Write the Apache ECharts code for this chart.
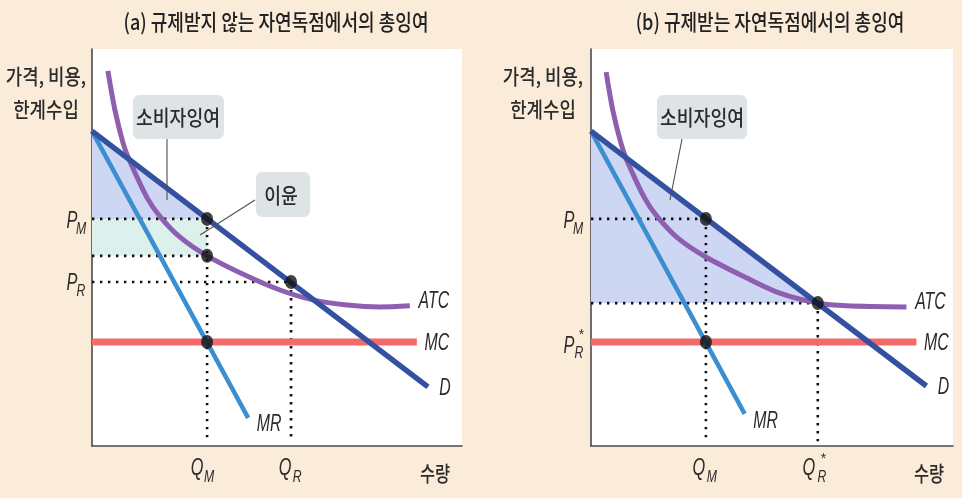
<!DOCTYPE html>
<html><head><meta charset="utf-8">
<script src="https://cdn.jsdelivr.net/npm/echarts@6.0.0/dist/echarts.min.js"></script>
<style>html,body{margin:0;padding:0;background:#fbebd9}#c{width:962px;height:498px}</style>
</head><body><div id="c"></div>
<script>
// ---------- data ----------
const panelTitles = ['(a) 규제받지 않는 자연독점에서의 총잉여', '(b) 규제받는 자연독점에서의 총잉여'];
const yAxisLines = ['가격, 비용,', '한계수입'];
const xAxisTitle = '수량';
const curveNames = ['ATC', 'MC', 'D', 'MR'];
const annotationA = ['소비자잉여', '이윤'];
const annotationB = ['소비자잉여'];

// panel (a)
const demandA = [[0, 79.3], [90.8, 14.9]];
const marginalRevenueA = [[0, 79.3], [42.2, 7.1]];
const marginalCostA = [[0, 26.2], [87.8, 26.2]];
const averageTotalCostA = [[4.3, 94.5], [6.2, 84.6], [8.4, 76.3], [10.0, 72.2], [14.9, 62.5], [18.4, 57.8], [23.8, 52.6], [31.1, 47.9], [41.9, 42.8], [50.8, 39.3], [59.7, 36.8], [68.9, 35.5], [77.8, 35.0], [85.9, 35.3]];
const quantitiesA = [31.1, 53.8];        // Q_M, Q_R
const pricesA = [57.2, 47.9, 41.3];      // P_M, ATC at Q_M, P_R

// panel (b)
const demandB = [[0, 79.3], [90.8, 15.1]];
const marginalRevenueB = [[0, 79.3], [41.6, 8.1]];
const marginalCostB = [[0, 26.2], [88.1, 26.2]];
const averageTotalCostB = [[4.1, 94.2], [5.9, 84.6], [8.1, 76.3], [9.7, 72.0], [14.6, 62.3], [18.1, 57.6], [23.6, 52.3], [31.1, 47.6], [42.2, 42.3], [51.1, 38.5], [61.4, 36.0], [69.2, 35.3], [85.4, 35.0]];
const quantitiesB = [31.1, 61.4];        // Q_M, Q_R*
const pricesB = [57.2, 36.0];            // P_M, ATC at Q_R*
const mcLevel = 26.2;

// ---------- build ----------
const C = {
  d: '#3450a0', mr: '#3b8ed0', mc: '#f26a6a', atc: '#8e5fb0',
  cs: '#cdd6f3', profit: '#dcf0ec', dot: '#111111'
};
const chart = echarts.init(document.getElementById('c'), null, {renderer: 'canvas'});
const grids = [
  {left: 92, top: 49, width: 370, height: 397},
  {left: 591, top: 49, width: 362, height: 397}
];
const xMax = [100, 98];

const panelA = {
  demand: demandA, mr: marginalRevenueA, mc: marginalCostA, atc: averageTotalCostA,
  fills: [
    {pts: [[0, demandA[0][1]], [quantitiesA[0], pricesA[0]], [0, pricesA[0]]], color: C.cs},
    {pts: [[0, pricesA[0]], [quantitiesA[0], pricesA[0]], [quantitiesA[0], pricesA[1]], [0, pricesA[1]]], color: C.profit}
  ],
  dotted: [
    [[0, pricesA[0]], [quantitiesA[0], pricesA[0]]],
    [[0, pricesA[1]], [quantitiesA[0], pricesA[1]]],
    [[0, pricesA[2]], [quantitiesA[1], pricesA[2]]],
    [[quantitiesA[0], pricesA[0]], [quantitiesA[0], 1.2]],
    [[quantitiesA[1], pricesA[2]], [quantitiesA[1], 1.2]]
  ],
  dots: [[quantitiesA[0], pricesA[0]], [quantitiesA[0], pricesA[1]], [quantitiesA[1], pricesA[2]], [quantitiesA[0], mcLevel]]
};
const panelB = {
  demand: demandB, mr: marginalRevenueB, mc: marginalCostB, atc: averageTotalCostB,
  fills: [
    {pts: [[0, demandB[0][1]], [quantitiesB[1], pricesB[1]], [0, pricesB[1]]], color: C.cs}
  ],
  dotted: [
    [[0, pricesB[0]], [quantitiesB[0], pricesB[0]]],
    [[0, pricesB[1]], [quantitiesB[1], pricesB[1]]],
    [[quantitiesB[0], pricesB[0]], [quantitiesB[0], 1.2]],
    [[quantitiesB[1], pricesB[1]], [quantitiesB[1], 1.2]]
  ],
  dots: [[quantitiesB[0], pricesB[0]], [quantitiesB[1], pricesB[1]], [quantitiesB[0], mcLevel]]
};
const panels = [panelA, panelB];

const series = [];
panels.forEach((p, i) => {
  const ax = {xAxisIndex: i, yAxisIndex: i};
  p.fills.forEach((f, k) => {
    series.push(Object.assign({
      type: 'custom', coordinateSystem: 'cartesian2d', data: [[0, 0]], z: 1 + k, silent: true,
      renderItem: (params, api) => ({
        type: 'polygon',
        shape: {points: f.pts.map(pt => api.coord(pt))},
        style: {fill: f.color}
      })
    }, ax));
  });
  p.dotted.forEach(seg => {
    series.push(Object.assign({
      type: 'line', data: seg, showSymbol: false, silent: true, z: 3,
      lineStyle: {color: C.dot, width: 2.6, type: [2.4, 5.6], cap: 'butt'}
    }, ax));
  });
  const ln = (data, color, width, z, smooth) => Object.assign({
    type: 'line', data, showSymbol: false, silent: true, z, smooth: smooth || false,
    lineStyle: {color, width, cap: 'butt'}
  }, ax);
  series.push(ln(p.mc, C.mc, 7, 4));
  series.push(ln(p.atc, C.atc, 5, 5, 0.3));
  series.push(ln(p.mr, C.mr, 4.5, 6));
  series.push(ln(p.demand, C.d, 5.5, 7));
  series.push(Object.assign({
    type: 'scatter', data: p.dots, symbol: 'circle', symbolSize: [12, 14], silent: true, z: 8,
    itemStyle: {color: C.dot}
  }, ax));
});

const axisLine = {show: true, lineStyle: {color: '#4a4a4a', width: 1.6}};
chart.setOption({
  animation: false,
  backgroundColor: '#fbebd9',
  grid: grids.map(g => Object.assign({show: true, backgroundColor: '#ffffff', borderWidth: 0}, g)),
  xAxis: [0, 1].map(i => ({
    type: 'value', gridIndex: i, min: 0, max: xMax[i], axisLine, axisTick: {show: false},
    axisLabel: {show: false}, splitLine: {show: false}
  })),
  yAxis: [0, 1].map(i => ({
    type: 'value', gridIndex: i, min: 0, max: 100, axisLine, axisTick: {show: false},
    axisLabel: {show: false}, splitLine: {show: false}
  })),
  series
});

// ---------- text & annotations ----------
const KR = '"Noto Sans CJK KR", sans-serif';
const IT = '"Liberation Sans", Arial, sans-serif';
function T(x, y, text, size, family, opt) {
  opt = opt || {};
  return {
    type: 'text', x, y, z: 100, silent: true, scaleX: opt.sx != null ? opt.sx : 0.85,
    style: {
      text, fontSize: size, fontFamily: family, fontStyle: opt.italic ? 'italic' : 'normal',
      fontWeight: opt.weight || 'normal',
      fill: opt.color || '#2b2b2b', align: opt.align || 'center', verticalAlign: 'middle'
    }
  };
}
const main = (x, y, t) => T(x, y, t, 24, IT, {italic: true, sx: 0.68});
const sub = (x, y, t) => T(x, y, t, 17, IT, {italic: true, sx: 0.72});
const star = (x, y) => T(x, y, '*', 15, IT, {italic: true, sx: 0.9});
const px = (i, pt) => chart.convertToPixel({xAxisIndex: i, yAxisIndex: i}, pt);

const g = [];
// titles
g.push(T(276, 22, panelTitles[0], 22, KR, {sx: 0.82, color: '#222', weight: 500}));
g.push(T(770, 22, panelTitles[1], 22, KR, {sx: 0.82, color: '#222', weight: 500}));
// y-axis names
[46, 543].forEach(cx => {
  g.push(T(cx, 76, yAxisLines[0], 21, KR, {weight: 500}));
  g.push(T(cx, 109, yAxisLines[1], 21, KR, {weight: 500}));
});
// x-axis names
g.push(T(435, 473, xAxisTitle, 21, KR, {sx: 0.78, weight: 500}));
g.push(T(929, 473, xAxisTitle, 21, KR, {sx: 0.78, weight: 500}));

// panel a price / quantity labels
let p;
p = px(0, [0, pricesA[0]]); g.push(main(p[0] - 20, p[1] + 2, 'P'), sub(p[0] - 11, p[1] + 10, 'M'));
p = px(0, [0, pricesA[2]]); g.push(main(p[0] - 20, p[1] + 1, 'P'), sub(p[0] - 11, p[1] + 9, 'R'));
p = px(0, [quantitiesA[0], 0]); g.push(main(p[0] - 10, 468, 'Q'), sub(p[0] + 2, 477, 'M'));
p = px(0, [quantitiesA[1], 0]); g.push(main(p[0] - 6, 468, 'Q'), sub(p[0] + 6, 477, 'R'));
// panel b price / quantity labels
p = px(1, [0, pricesB[0]]); g.push(main(p[0] - 22, p[1] + 2, 'P'), sub(p[0] - 13, p[1] + 10, 'M'));
p = px(1, [0, mcLevel]); g.push(main(p[0] - 22, p[1] + 4, 'P'), sub(p[0] - 12, p[1] + 11, 'R'), star(p[0] - 10, p[1] - 7));
p = px(1, [quantitiesB[0], 0]); g.push(main(p[0] - 7, 468, 'Q'), sub(p[0] + 6, 477, 'M'));
p = px(1, [quantitiesB[1], 0]); g.push(main(p[0] - 9, 468, 'Q'), sub(p[0] + 4, 477, 'R'), star(p[0] + 5, 459));

// curve labels
panels.forEach((pp, i) => {
  const atcEnd = px(i, pp.atc[pp.atc.length - 1]);
  const mcEnd = px(i, pp.mc[1]);
  const dEnd = px(i, pp.demand[1]);
  const mrEnd = px(i, pp.mr[1]);
  const cl = (x, y, t) => T(x, y, t, 24, IT, {italic: true, sx: 0.66});
  g.push(cl(atcEnd[0] + 24, atcEnd[1] - 5, curveNames[0]));
  g.push(cl(mcEnd[0] + 20, mcEnd[1] + 1, curveNames[1]));
  g.push(cl(dEnd[0] + 17, dEnd[1] + 1, curveNames[2]));
  g.push(cl(mrEnd[0] + 21, mrEnd[1] + 7, curveNames[3]));
});

// annotation boxes and leader lines
const box = (x, y, w, h) => ({type: 'rect', z: 99, silent: true, shape: {x, y, width: w, height: h, r: 6}, style: {fill: '#dee4e5'}});
const leader = (x1, y1, x2, y2) => ({type: 'line', z: 99, silent: true, shape: {x1, y1, x2, y2}, style: {stroke: '#505050', lineWidth: 1.1}});
g.push(box(133, 95, 91, 44), T(178, 117, annotationA[0], 21, KR, {sx: 0.87, weight: 500}));
g.push(leader(167, 139, 167, 200));
g.push(box(256, 172, 54, 45), T(281, 195, annotationA[1], 21, KR, {sx: 0.87, weight: 500}));
g.push(leader(255, 200, 200, 235));
g.push(box(657, 95, 90, 44), T(702, 117, annotationB[0], 21, KR, {sx: 0.87, weight: 500}));
g.push(leader(682, 139, 670, 200));

chart.setOption({graphic: {elements: g}});
</script>
</body></html>
